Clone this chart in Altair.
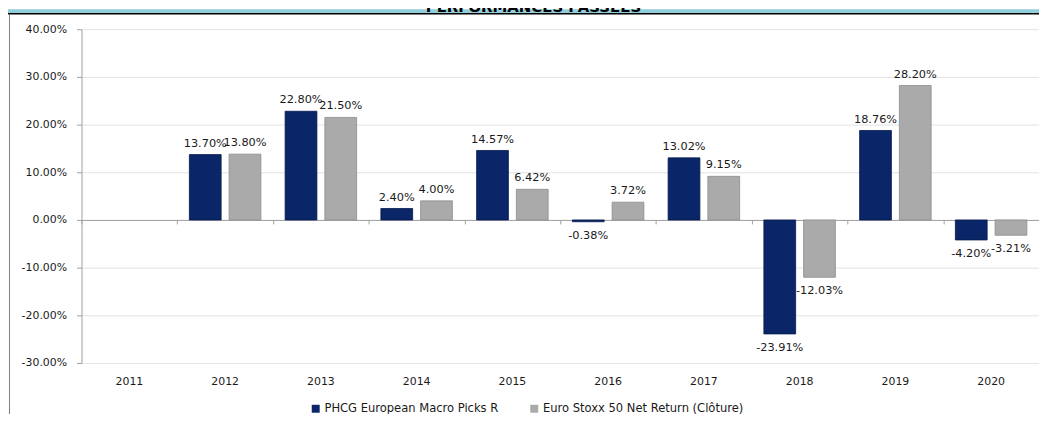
import altair as alt
import pandas as pd

years = ["2011", "2012", "2013", "2014", "2015", "2016", "2017", "2018", "2019", "2020"]
series_names = ["PHCG European Macro Picks R", "Euro Stoxx 50 Net Return (Clôture)"]
phcg = [None, 13.70, 22.80, 2.40, 14.57, -0.38, 13.02, -23.91, 18.76, -4.20]
stoxx = [None, 13.80, 21.50, 4.00, 6.42, 3.72, 9.15, -12.03, 28.20, -3.21]
colors = ["#0A2568", "#AAAAAA"]
edge_colors = ["#051A4D", "#8C8C8C"]
title_text = "PERFORMANCES PASSEES"

rows = []
for y, a, b in zip(years, phcg, stoxx):
    if a is not None:
        rows.append({"year": y, "series": series_names[0], "value": a})
    if b is not None:
        rows.append({"year": y, "series": series_names[1], "value": b})
df = pd.DataFrame(rows)

FONT = "DejaVu Sans"
W, H = 964, 336

base = alt.Chart(df).transform_calculate(
    frac="datum.value / 100",
    label="replace(format(datum.value / 100, '.2%'), '\u2212', '-')",
)

xscale = alt.Scale(domain=years, paddingInner=0.17, paddingOuter=0.085)
yscale = alt.Scale(domain=[-0.3, 0.4], nice=False, zero=False)
offscale = alt.Scale(domain=series_names, paddingInner=0.2, paddingOuter=0.1)
yaxis = alt.Axis(format=".2%", values=[-0.3, -0.2, -0.1, 0, 0.1, 0.2, 0.3, 0.4],
                 labelExpr="replace(datum.label, '\u2212', '-')",
                 title=None, grid=True, gridColor="#E3E3E3", domainColor="#A0A0A0",
                 tickColor="#A0A0A0", tickSize=5, labelPadding=10, labelFont=FONT,
                 labelFontSize=11, labelColor="#1A1A1A")

bars = base.mark_bar(strokeWidth=0.8).encode(
    x=alt.X("year:N", scale=xscale,
            axis=alt.Axis(title=None, orient="bottom", labelAngle=0, domain=False,
                          ticks=False, grid=False, labelFont=FONT, labelFontSize=11,
                          labelColor="#1A1A1A", labelPadding=13)),
    xOffset=alt.XOffset("series:N", scale=offscale, sort=series_names),
    y=alt.Y("frac:Q", scale=yscale, axis=yaxis),
    color=alt.Color("series:N", sort=series_names,
                    scale=alt.Scale(domain=series_names, range=colors),
                    legend=alt.Legend(title=None, orient="none", direction="horizontal",
                                      legendX=230, legendY=376, symbolType="square",
                                      symbolSize=64, symbolStrokeWidth=0,
                                      labelFont=FONT, labelFontSize=11.6, labelLimit=0,
                                      labelColor="#1A1A1A", columnPadding=30,
                                      labelOffset=3, padding=0)),
    stroke=alt.Stroke("series:N", sort=series_names,
                      scale=alt.Scale(domain=series_names, range=edge_colors), legend=None),
)

zero_axis = alt.Axis(title=None, orient="bottom", labels=False, grid=False, offset=-144,
                     domainColor="#A0A0A0", tickColor="#A0A0A0", tickSize=4,
                     bandPosition=0, tickOffset=-8.2, domain=True, ticks=True)

pos_labels = base.transform_filter("datum.value >= 0").mark_text(
    baseline="alphabetic", dy=-8, font=FONT, fontSize=11.4, color="#1A1A1A"
).encode(
    x=alt.X("year:N", scale=xscale, axis=zero_axis),
    xOffset=alt.XOffset("series:N", scale=offscale, sort=series_names),
    y=alt.Y("frac:Q", scale=yscale, axis=yaxis),
    text=alt.Text("label:N"),
)

neg_labels = base.transform_filter("datum.value < 0").mark_text(
    baseline="top", dy=8, font=FONT, fontSize=11.4, color="#1A1A1A"
).encode(
    x=alt.X("year:N", scale=xscale, axis=None),
    xOffset=alt.XOffset("series:N", scale=offscale, sort=series_names),
    y=alt.Y("frac:Q", scale=yscale, axis=yaxis),
    text=alt.Text("label:N"),
)

one = pd.DataFrame({"t": [title_text]})
band = alt.Chart(one).mark_rect(color="#92CDDC").encode(
    x=alt.value(-74), x2=alt.value(W), y=alt.value(-20), y2=alt.value(-16))
title = alt.Chart(one).mark_text(font=FONT, fontSize=15, fontWeight="bold",
                                 baseline="alphabetic", align="center", color="#000000").encode(
    x=alt.value(455), y=alt.value(-17), text="t:N")
black_line = alt.Chart(one).mark_rule(color="#000000", strokeWidth=1.5).encode(
    x=alt.value(-74), x2=alt.value(W), y=alt.value(-15.5))
left_border = alt.Chart(one).mark_rule(color="#808080", strokeWidth=1).encode(
    x=alt.value(-72.5), y=alt.value(-15), y2=alt.value(400))

chart = alt.layer(band, title, black_line, left_border, bars, pos_labels, neg_labels).resolve_axis(
    x="independent"
).properties(
    width=W, height=H,
    autosize=alt.AutoSizeParams(type="none"),
    padding={"left": 74, "top": 20, "right": 0, "bottom": 50},
    background="#FFFFFF",
).configure_view(stroke=None)

chart.save("out.html", embed_options={"renderer": "svg", "actions": False})
